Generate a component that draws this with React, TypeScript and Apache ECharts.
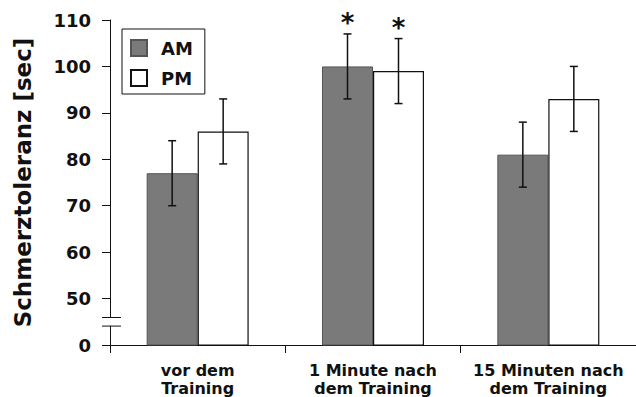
import React, { useEffect, useRef } from "react";
import * as echarts from "echarts";

// ---- data ----
const categories = ["vor dem\nTraining", "1 Minute nach\ndem Training", "15 Minuten nach\ndem Training"];
const amMean = [77, 100, 81];
const amSD = [7, 7, 7];
const pmMean = [86, 99, 93];
const pmSD = [7, 7, 7];
const amSignificant = [false, true, false];
const pmSignificant = [false, true, false];
const seriesNames = ["AM", "PM"];
// broken y axis: axis starts at BREAK_LOW (shown as 0), ticks 50..110
const BREAK_LOW = 40;
const Y_MAX = 110;
const Y_STEP = 10;
const BREAK_MID = 45;

const FONT = "DejaVu Sans";
const GRID_LEFT = 110;
const BAR_W = 51;

function errorSeries(name: string, means: number[], sds: number[], sig: boolean[], offset: number) {
  return {
    name: name + " SD",
    type: "custom",
    z: 10,
    silent: true,
    encode: { x: 0, y: [1, 2] },
    data: means.map((m, i) => [i, m - sds[i], m + sds[i], sig[i] ? 1 : 0]),
    renderItem: (params: any, api: any) => {
      const idx = api.value(0);
      const lo = api.coord([idx, api.value(1)]);
      const hi = api.coord([idx, api.value(2)]);
      const x = lo[0] + offset;
      const cap = 4;
      const st = { stroke: "#111", lineWidth: 1.5 };
      const children: any[] = [
        { type: "line", shape: { x1: x, y1: hi[1], x2: x, y2: lo[1] }, style: st },
        { type: "line", shape: { x1: x - cap, y1: hi[1], x2: x + cap, y2: hi[1] }, style: st },
        { type: "line", shape: { x1: x - cap, y1: lo[1], x2: x + cap, y2: lo[1] }, style: st },
      ];
      if (api.value(3) === 1) {
        children.push({
          type: "text",
          x: x,
          y: hi[1] + 2,
          style: {
            text: "*",
            fontSize: 26,
            fontWeight: "bold",
            fontFamily: FONT,
            fill: "#111",
            align: "center",
            verticalAlign: "bottom",
          },
        });
      }
      return { type: "group", children };
    },
  };
}

export default function App() {
  const ref = useRef<HTMLDivElement>(null);
  useEffect(() => {
    if (!ref.current) return;
    const chart = echarts.init(ref.current, null, { renderer: "svg" });
    chart.setOption({
      animation: false,
      grid: { left: GRID_LEFT, right: -5, top: 20, bottom: 49 },
      legend: {
        orient: "vertical",
        left: 122,
        top: 29,
        selectedMode: false,
        data: seriesNames,
        icon: "rect",
        itemWidth: 16,
        itemHeight: 16,
        itemGap: 12,
        padding: [10, 12, 7, 8],
        borderColor: "#111",
        borderWidth: 1,
        textStyle: {
          fontFamily: FONT,
          fontWeight: "bold",
          fontSize: 18,
          color: "#111",
          lineHeight: 16,
          padding: [0, 0, 0, 9],
        },
      },
      xAxis: {
        type: "category",
        data: categories,
        axisLine: { lineStyle: { color: "#111", width: 1 } },
        axisTick: { show: true, length: 8, lineStyle: { color: "#111" } },
        axisLabel: {
          fontFamily: FONT,
          fontWeight: "bold",
          fontSize: 16,
          color: "#111",
          lineHeight: 18,
          margin: 16,
          interval: 0,
        },
      },
      yAxis: {
        type: "value",
        min: BREAK_LOW,
        max: Y_MAX,
        interval: Y_STEP,
        splitLine: { show: false },
        axisLine: { show: true, lineStyle: { color: "#111", width: 1 } },
        axisTick: { show: true, length: 8, lineStyle: { color: "#111" } },
        axisLabel: {
          fontFamily: FONT,
          fontWeight: "bold",
          fontSize: 18,
          color: "#111",
          margin: 19,
          formatter: (v: number) => (v === BREAK_LOW ? "0" : String(v)),
        },
        name: "Schmerztoleranz [sec]",
        nameLocation: "middle",
        nameGap: 76,
        nameTextStyle: { fontFamily: FONT, fontWeight: "bold", fontSize: 23, color: "#111" },
      },
      series: [
        {
          name: "AM",
          type: "bar",
          data: amMean,
          barWidth: BAR_W,
          barGap: "0%",
          itemStyle: { color: "#7a7a7a", borderColor: "#555", borderWidth: 1 },
        },
        {
          name: "PM",
          type: "bar",
          data: pmMean,
          barWidth: BAR_W,
          barGap: "0%",
          itemStyle: { color: "#ffffff", borderColor: "#111", borderWidth: 1.2 },
        },
        errorSeries("AM", amMean, amSD, amSignificant, -BAR_W / 2),
        errorSeries("PM", pmMean, pmSD, pmSignificant, BAR_W / 2),
      ],
    });
    const yb = chart.convertToPixel({ yAxisIndex: 0 }, BREAK_MID) as number;
    chart.setOption({
      graphic: [
        { type: "rect", shape: { x: GRID_LEFT - 3, y: yb - 4, width: 6, height: 8 }, style: { fill: "#fff" }, z: 100 },
        { type: "line", shape: { x1: GRID_LEFT - 8, y1: yb - 4.3, x2: GRID_LEFT + 11, y2: yb - 4.3 }, style: { stroke: "#111", lineWidth: 1 }, z: 101 },
        { type: "line", shape: { x1: GRID_LEFT - 8, y1: yb + 4.3, x2: GRID_LEFT + 11, y2: yb + 4.3 }, style: { stroke: "#111", lineWidth: 1 }, z: 101 },
      ],
    });
    return () => chart.dispose();
  }, []);
  return <div ref={ref} style={{ width: 636, height: 397, position: "absolute", left: 0, top: 0 }} />;
}
